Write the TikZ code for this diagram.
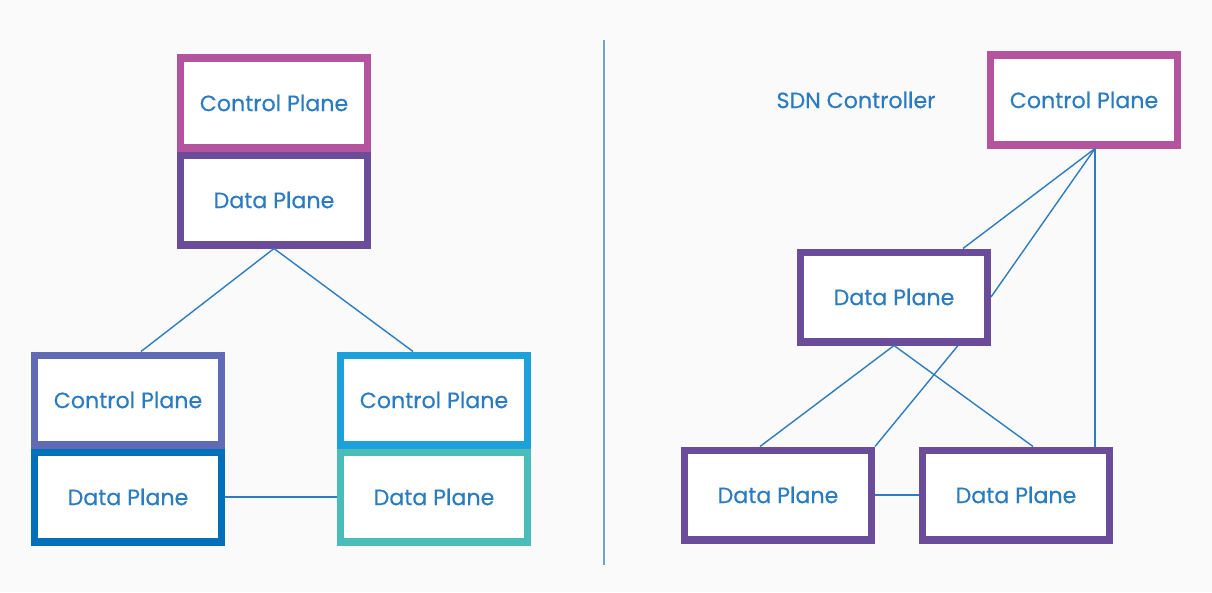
\documentclass[tikz,border=0pt]{standalone}
\usepackage{fontspec}
\setmainfont{Poppins}
\newfontfamily\planefont[FakeBold=0.4]{Poppins}
\usetikzlibrary{positioning}
\definecolor{bgGrey}{HTML}{FAFAFA}
\definecolor{txtBlue}{HTML}{2A7BBF}
\definecolor{lnBlue}{HTML}{2F7DC1}
\definecolor{divBlue}{HTML}{6FA3D3}
\definecolor{cpMagenta}{HTML}{B4549E}
\definecolor{dpPurple}{HTML}{6B4C9A}
\definecolor{cpViolet}{HTML}{5F6CB5}
\definecolor{dpBlue}{HTML}{0071B9}
\definecolor{cpCyan}{HTML}{1DA1DB}
\definecolor{dpTeal}{HTML}{4ABDBB}
\tikzset{
  plane/.style={draw, fill=white, line width=4pt, minimum width=3.74cm,
    minimum height=1.8cm, text=txtBlue, font=\planefont\fontsize{12.6}{14}\selectfont},
  link/.style={draw=lnBlue, line width=0.8pt}
}
\begin{document}
\begin{tikzpicture}[x=0.02cm, y=-0.02cm]
                \fill[bgGrey] (0,0) rectangle (1212,592);
                % Divider
                \draw[divBlue, line width=1.1pt] (604,40) -- (604,565);

                % Traditional network: nodes
                \node[plane, draw=cpMagenta] (tlcp) at (274,103) {Control Plane};
                \node[plane, draw=dpPurple, below=0pt of tlcp] (tldp) {Data Plane};
                \node[plane, draw=cpViolet] (blcp) at (128,400) {Control Plane};
                \node[plane, draw=dpBlue, below=0pt of blcp] (bldp) {Data Plane};
                \node[plane, draw=cpCyan] (bmcp) at (434,400) {Control Plane};
                \node[plane, draw=dpTeal, below=0pt of bmcp] (bmdp) {Data Plane};

                % Traditional network: edges
                \draw[link] (tldp.south) -- ([xshift=0.26cm]blcp.north);
                \draw[link] (tldp.south) -- ([xshift=-0.42cm]bmcp.north);
                \draw[link] (bldp.east) -- (bmdp.west);

                % SDN: nodes
                \node[text=txtBlue, font=\planefont\fontsize{12.6}{14}\selectfont] (sdn) at (856,100) {SDN Controller};
                \node[plane, draw=cpMagenta] (cp) at (1084,100) {Control Plane};
                \node[plane, draw=dpPurple] (dp) at (894,297) {Data Plane};
                \node[plane, draw=dpPurple] (dpl) at (778,495) {Data Plane};
                \node[plane, draw=dpPurple] (dpr) at (1016,495) {Data Plane};
                \coordinate (hub) at ([xshift=0.22cm]cp.south);

                % SDN: edges
                \draw[link] (hub) -- ([xshift=1.38cm]dp.north);
                \draw[link] (hub) -- (dp.east);
                \draw[link] (hub) -- (hub |- dpr.north);
                \draw[link] (dp.south) -- ([xshift=-0.36cm]dpl.north);
                \draw[link] (dp.south) -- ([xshift=0.34cm]dpr.north);
                \draw[link] ([xshift=1.28cm]dp.south) -- (dpl.north east);
                \draw[link] (dpl.east) -- (dpr.west);
\end{tikzpicture}
\end{document}
